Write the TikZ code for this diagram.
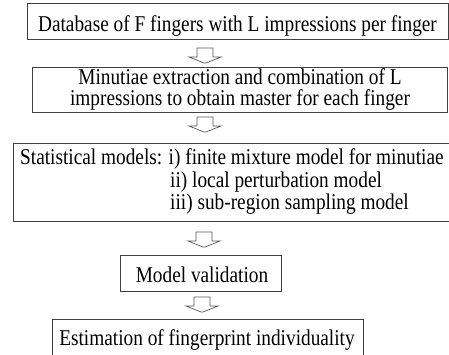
\documentclass[tikz,border=0pt]{standalone}
\usepackage{fontspec}
\setmainfont{Liberation Serif}
\newcommand{\tall}[1]{\scalebox{1}[1.17]{#1}}
\begin{document}
\begin{tikzpicture}[x=1pt,y=-1pt,
  boxline/.style={draw=black!75,line width=0.8pt},
  txt/.style={inner sep=0pt,font=\fontsize{19.3}{22}\selectfont},
  blk/.pic={\draw[draw=black!65,line width=0.7pt,line join=miter]
     (-8,0) -- (8,0) -- (8,9) -- (16,9) -- (1,15) -- (-1,15) -- (-16,9) -- (-8,9) -- cycle;}]
\useasboundingbox (0,0) rectangle (449,354);
% boxes
\draw[boxline] (27,3) rectangle (448,39);
\draw[boxline] (32,67) rectangle (447,112);
\draw[boxline] (13,143) rectangle (452,221);
\draw[boxline] (120,255) rectangle (281,291);
\draw[boxline] (52,319) rectangle (363,360);
% texts
\node[txt,anchor=base] (t1) at (237.5,31) {\tall{Database of F fingers with L impressions per finger}};
\node[txt,anchor=center] (t2) at (240,90) {\tall{\fontsize{19.3}{16.6}\selectfont\begin{tabular}{@{}c@{}}Minutiae extraction and combination of L\\impressions to obtain master for each finger\end{tabular}}};
\node[txt,anchor=base west] (t3a) at (20,164) {\tall{Statistical models: i) finite mixture model for minutiae}};
\node[txt,anchor=base west] (t3b) at (170,187) {\tall{ii) local perturbation model}};
\node[txt,anchor=base west] (t3c) at (170,209) {\tall{iii) sub-region sampling model}};
\node[txt,anchor=base] (t4) at (202,282) {\tall{Model validation}};
\node[txt,anchor=base] (t5) at (207,345) {\tall{Estimation of fingerprint individuality}};
% arrows
\pic at (205,48) {blk};
\pic at (205,117) {blk};
\pic at (204,232) {blk};
\pic at (202,297) {blk};
\end{tikzpicture}
\end{document}
